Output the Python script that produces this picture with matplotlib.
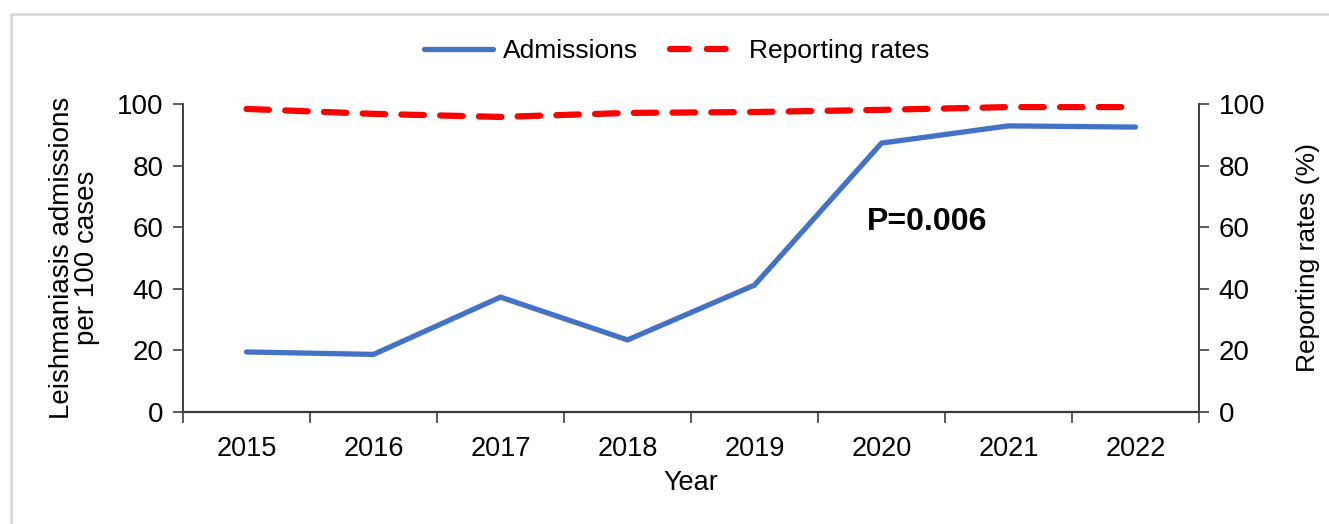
import numpy as np
import matplotlib as mpl
from matplotlib import pyplot as plt
from matplotlib.lines import Line2D

plt.rcParams['font.family'] = ['Liberation Sans', 'DejaVu Sans']

years = ['2015', '2016', '2017', '2018', '2019', '2020', '2021', '2022']
admissions = [19.5, 18.7, 37.3, 23.4, 41.2, 87.3, 92.9, 92.5]
reporting = [98.4, 96.8, 95.8, 97.1, 97.4, 98.1, 99.0, 99.0]

blue = '#4472C4'
red = '#FF0000'
axis_col = '#404040'

fig = plt.figure(figsize=(13.29, 5.24), dpi=100)
ax = fig.add_axes([183 / 1329, 1 - 412 / 524, (1199 - 183) / 1329, 308 / 524])
ax2 = ax.twinx()

x = np.arange(len(years))
ax.plot(x, admissions, color=blue, lw=3.8, solid_capstyle='round',
        solid_joinstyle='miter', zorder=3)
ax2.plot(x, reporting, color=red, lw=4.5, dashes=(3.6, 2.6),
         dash_capstyle='round', zorder=3)

ax.set_xlim(-0.5, len(years) - 0.5)
ax.set_ylim(0, 100)
ax2.set_ylim(0, 100)
ax.set_yticks(range(0, 101, 20))
ax2.set_yticks(range(0, 101, 20))

ax.set_xticks(x)
ax.set_xticklabels(years)
ax.set_xticks(np.arange(-0.5, len(years)), minor=True)
ax.tick_params(axis='x', which='major', length=0, pad=17, labelsize=19.5)
ax.tick_params(axis='x', which='minor', length=8, width=1.2, color=axis_col, direction='out')
ax.tick_params(axis='y', length=7, width=1.2, color=axis_col, labelsize=20, pad=7)
ax2.tick_params(axis='y', length=7, width=1.2, color=axis_col, labelsize=20, pad=7)

for a in (ax, ax2):
    a.spines['top'].set_visible(False)
    for s in ('left', 'right', 'bottom'):
        a.spines[s].set_color(axis_col)
        a.spines[s].set_linewidth(1.2)
ax.spines['bottom'].set_linewidth(1.6)
ax.spines['bottom'].set_color('#222222')

ax.set_xlabel('Year', fontsize=19.5, labelpad=6)
ax.set_ylabel('Leishmaniasis admissions\nper 100 cases', fontsize=20, labelpad=12,
              linespacing=0.95)
ax2.set_ylabel('Reporting rates (%)', fontsize=19, labelpad=22)

ax.text(5.36, 61.7, 'P=0.006', fontsize=23, fontweight='bold', ha='center', va='center')

handles = [Line2D([], [], color=blue, lw=3.8, solid_capstyle='round'),
           Line2D([], [], color=red, lw=4.5, dashes=(3.0, 2.9), dash_capstyle='round')]
fig.legend(handles, ['Admissions', 'Reporting rates'], loc='center',
           bbox_to_anchor=(677 / 1329, 1 - 51 / 524), ncol=2, frameon=False,
           fontsize=19, handlelength=2.6, handletextpad=0.4, columnspacing=1.2)

fig.add_artist(plt.Line2D([11 / 1329, 11 / 1329, 1.0], [0.0, 1 - 13.5 / 524, 1 - 13.5 / 524],
                          transform=fig.transFigure, color='#d9d9d9', lw=2))

fig.savefig('out.png', dpi=100)
